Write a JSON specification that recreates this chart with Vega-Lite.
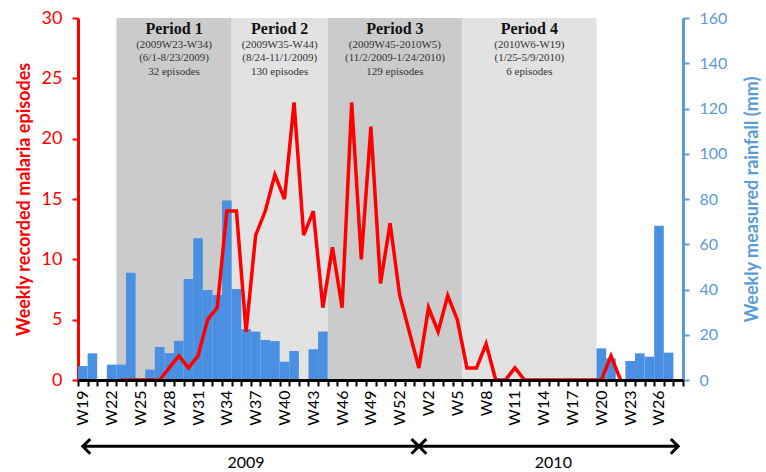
{
  "$schema": "https://vega.github.io/schema/vega-lite/v6.json",
  "width": 605,
  "height": 362,
  "autosize": {"type": "none"},
  "padding": {"left": 78, "top": 18, "right": 83, "bottom": 92},
  "background": "white",
  "config": {"view": {"stroke": null}, "font": "Lato"},
  "datasets": {
    "rain": [
      {"week": "2009-W19", "rain": 6.2},
      {"week": "2009-W20", "rain": 11.8},
      {"week": "2009-W22", "rain": 6.8},
      {"week": "2009-W23", "rain": 6.8},
      {"week": "2009-W24", "rain": 47.4},
      {"week": "2009-W26", "rain": 4.6},
      {"week": "2009-W27", "rain": 14.6},
      {"week": "2009-W28", "rain": 11.9},
      {"week": "2009-W29", "rain": 17.3},
      {"week": "2009-W30", "rain": 44.6},
      {"week": "2009-W31", "rain": 62.6},
      {"week": "2009-W32", "rain": 39.8},
      {"week": "2009-W33", "rain": 37.6},
      {"week": "2009-W34", "rain": 79.3},
      {"week": "2009-W35", "rain": 40.2},
      {"week": "2009-W36", "rain": 22.5},
      {"week": "2009-W37", "rain": 21.4},
      {"week": "2009-W38", "rain": 17.7},
      {"week": "2009-W39", "rain": 17.2},
      {"week": "2009-W40", "rain": 8.1},
      {"week": "2009-W41", "rain": 12.8},
      {"week": "2009-W43", "rain": 13.6},
      {"week": "2009-W44", "rain": 21.4},
      {"week": "2010-W20", "rain": 14.0},
      {"week": "2010-W21", "rain": 9.6},
      {"week": "2010-W23", "rain": 8.4},
      {"week": "2010-W24", "rain": 11.8},
      {"week": "2010-W25", "rain": 10.3},
      {"week": "2010-W26", "rain": 68.2},
      {"week": "2010-W27", "rain": 12.1}
    ],
    "malaria": [
      {"week": "2009-W23", "cases": 0},
      {"week": "2009-W24", "cases": 0},
      {"week": "2009-W25", "cases": 0},
      {"week": "2009-W26", "cases": 0},
      {"week": "2009-W27", "cases": 0},
      {"week": "2009-W28", "cases": 1},
      {"week": "2009-W29", "cases": 2},
      {"week": "2009-W30", "cases": 1},
      {"week": "2009-W31", "cases": 2},
      {"week": "2009-W32", "cases": 5},
      {"week": "2009-W33", "cases": 6},
      {"week": "2009-W34", "cases": 14},
      {"week": "2009-W35", "cases": 14},
      {"week": "2009-W36", "cases": 4},
      {"week": "2009-W37", "cases": 12},
      {"week": "2009-W38", "cases": 14},
      {"week": "2009-W39", "cases": 17},
      {"week": "2009-W40", "cases": 15},
      {"week": "2009-W41", "cases": 23},
      {"week": "2009-W42", "cases": 12},
      {"week": "2009-W43", "cases": 14},
      {"week": "2009-W44", "cases": 6},
      {"week": "2009-W45", "cases": 11},
      {"week": "2009-W46", "cases": 6},
      {"week": "2009-W47", "cases": 23},
      {"week": "2009-W48", "cases": 10},
      {"week": "2009-W49", "cases": 21},
      {"week": "2009-W50", "cases": 8},
      {"week": "2009-W51", "cases": 13},
      {"week": "2009-W52", "cases": 7},
      {"week": "2009-W53", "cases": 4},
      {"week": "2010-W1", "cases": 1},
      {"week": "2010-W2", "cases": 6},
      {"week": "2010-W3", "cases": 4},
      {"week": "2010-W4", "cases": 7},
      {"week": "2010-W5", "cases": 5},
      {"week": "2010-W6", "cases": 1},
      {"week": "2010-W7", "cases": 1},
      {"week": "2010-W8", "cases": 3},
      {"week": "2010-W9", "cases": 0},
      {"week": "2010-W10", "cases": 0},
      {"week": "2010-W11", "cases": 1},
      {"week": "2010-W12", "cases": 0},
      {"week": "2010-W13", "cases": 0},
      {"week": "2010-W14", "cases": 0},
      {"week": "2010-W15", "cases": 0},
      {"week": "2010-W16", "cases": 0},
      {"week": "2010-W17", "cases": 0},
      {"week": "2010-W18", "cases": 0},
      {"week": "2010-W19", "cases": 0},
      {"week": "2010-W20", "cases": 0},
      {"week": "2010-W21", "cases": 2},
      {"week": "2010-W22", "cases": 0}
    ],
    "periods": [
      {"period": "Period 1", "start": "2009-W23", "end": "2009-W35", "mid": "2009-W29", "sub": ["(2009W23-W34)", "(6/1-8/23/2009)", "32 episodes"]},
      {"period": "Period 2", "start": "2009-W35", "end": "2009-W45", "mid": "2009-W40", "sub": ["(2009W35-W44)", "(8/24-11/1/2009)", "130 episodes"]},
      {"period": "Period 3", "start": "2009-W45", "end": "2010-W6", "mid": "2009-W52", "sub": ["(2009W45-2010W5)", "(11/2/2009-1/24/2010)", "129 episodes"]},
      {"period": "Period 4", "start": "2010-W6", "end": "2010-W20", "mid": "2010-W13", "sub": ["(2010W6-W19)", "(1/25-5/9/2010)", "6 episodes"]}
    ],
    "arrows": [
      {"year": "2009", "pos": "2009-W19", "head": "left"},
      {"year": "2009", "pos": "2010-W1", "head": "right"},
      {"year": "2010", "pos": "2010-W1", "head": "left"},
      {"year": "2010", "pos": "2010-W28", "head": "right"}
    ],
    "years": [
      {"year": "2009", "mid": "2009-W36"},
      {"year": "2010", "mid": "2010-W15"}
    ]
  },
  "layer": [
    {
      "data": {"name": "periods"},
      "mark": {"type": "rect"},
      "encoding": {
        "x": {"field": "start", "type": "nominal", "bandPosition": 0,
          "axis": {"title": null, "labelAngle": -90, "labelFontSize": 16, "labelColor": "black", "labelFont": "Lato",
            "domainColor": "black", "domainWidth": 3, "tickColor": "black", "tickWidth": 2, "tickSize": 6,
            "tickBand": "extent", "labelOverlap": false, "labelPadding": 4,
            "labelExpr": "indexof(['2009-W19','2009-W22','2009-W25','2009-W28','2009-W31','2009-W34','2009-W37','2009-W40','2009-W43','2009-W46','2009-W49','2009-W52','2010-W2','2010-W5','2010-W8','2010-W11','2010-W14','2010-W17','2010-W20','2010-W23','2010-W26'], datum.value) >= 0 ? split(datum.value, '-')[1] : ''"},
          "scale": {"type": "band", "paddingInner": 0, "paddingOuter": 0,
            "domain": ["2009-W19","2009-W20","2009-W21","2009-W22","2009-W23","2009-W24","2009-W25","2009-W26","2009-W27","2009-W28","2009-W29","2009-W30","2009-W31","2009-W32","2009-W33","2009-W34","2009-W35","2009-W36","2009-W37","2009-W38","2009-W39","2009-W40","2009-W41","2009-W42","2009-W43","2009-W44","2009-W45","2009-W46","2009-W47","2009-W48","2009-W49","2009-W50","2009-W51","2009-W52","2009-W53","2010-W1","2010-W2","2010-W3","2010-W4","2010-W5","2010-W6","2010-W7","2010-W8","2010-W9","2010-W10","2010-W11","2010-W12","2010-W13","2010-W14","2010-W15","2010-W16","2010-W17","2010-W18","2010-W19","2010-W20","2010-W21","2010-W22","2010-W23","2010-W24","2010-W25","2010-W26","2010-W27","2010-W28"]}},
        "x2": {"field": "end", "bandPosition": 0},
        "color": {"field": "period", "type": "nominal", "legend": null,
          "scale": {"domain": ["Period 1", "Period 2", "Period 3", "Period 4"], "range": ["#cbcbcb", "#e2e2e2", "#cbcbcb", "#e2e2e2"]}}
      }
    },
    {
      "data": {"name": "rain"},
      "mark": {"type": "bar", "color": "#4a90e2"},
      "encoding": {
        "x": {"field": "week", "type": "nominal"},
        "y": {"field": "rain", "type": "quantitative",
          "scale": {"domain": [0, 160], "nice": false},
          "axis": {"orient": "right", "values": [0, 20, 40, 60, 80, 100, 120, 140, 160], "grid": false,
            "title": "Weekly measured rainfall (mm)", "titleColor": "#5b9bd5", "titleFontSize": 18, "titleFontWeight": "bold",
            "titleAngle": 270, "titlePadding": 35,
            "labelColor": "#5b9bd5", "labelFontSize": 16, "labelPadding": 10,
            "domainColor": "#5b9bd5", "domainWidth": 3, "tickColor": "#5b9bd5", "tickWidth": 2, "tickSize": 6}}
      }
    },
    {
      "layer": [
        {
          "data": {"name": "malaria"},
          "mark": {"type": "line", "color": "#ff0000", "strokeWidth": 3.5},
          "encoding": {
            "x": {"field": "week", "type": "nominal"},
            "y": {"field": "cases", "type": "quantitative",
              "scale": {"domain": [0, 30], "nice": false},
              "axis": {"orient": "left", "values": [0, 5, 10, 15, 20, 25, 30], "grid": false,
                "title": "Weekly recorded malaria episodes", "titleColor": "#ff0000", "titleFontSize": 18, "titleFontWeight": "bold",
                "titlePadding": 8,
                "labelColor": "#ff0000", "labelFontSize": 18, "labelPadding": 10,
                "domainColor": "#ff0000", "domainWidth": 3, "tickColor": "#ff0000", "tickWidth": 2, "tickSize": 6}}
          }
        },
        {
          "data": {"name": "periods"},
          "mark": {"type": "text", "font": "Liberation Serif", "fontWeight": "bold", "fontSize": 16, "baseline": "middle", "align": "center", "dy": 11, "color": "#111111"},
          "encoding": {
            "x": {"field": "mid", "type": "nominal", "bandPosition": 0},
            "y": {"datum": 30},
            "text": {"field": "period"}
          }
        },
        {
          "data": {"name": "periods"},
          "mark": {"type": "text", "font": "Liberation Serif", "fontSize": 11, "baseline": "top", "align": "center", "dy": 20.5, "lineHeight": 13.5, "color": "#333333"},
          "encoding": {
            "x": {"field": "mid", "type": "nominal", "bandPosition": 0},
            "y": {"datum": 30},
            "text": {"field": "sub"}
          }
        },
        {
          "data": {"name": "arrows"},
          "mark": {"type": "line", "color": "black", "strokeWidth": 3},
          "encoding": {
            "x": {"field": "pos", "type": "nominal"},
            "y": {"datum": -5.5},
            "detail": {"field": "year"}
          }
        },
        {
          "data": {"name": "arrows"},
          "mark": {"type": "point", "filled": false, "color": "black", "strokeWidth": 3, "size": 220, "opacity": 1},
          "encoding": {
            "x": {"field": "pos", "type": "nominal"},
            "y": {"datum": -5.5},
            "shape": {"field": "head", "type": "nominal", "legend": null,
              "scale": {"domain": ["left", "right"], "range": ["M1,-1L0,0L1,1", "M-1,-1L0,0L-1,1"]}}
          }
        },
        {
          "data": {"name": "years"},
          "mark": {"type": "text", "font": "Lato", "fontSize": 16, "baseline": "middle", "align": "center", "dy": 17, "color": "black"},
          "encoding": {
            "x": {"field": "mid", "type": "nominal"},
            "y": {"datum": -5.5},
            "text": {"field": "year"}
          }
        }
      ]
    }
  ],
  "resolve": {"scale": {"y": "independent"}}
}
